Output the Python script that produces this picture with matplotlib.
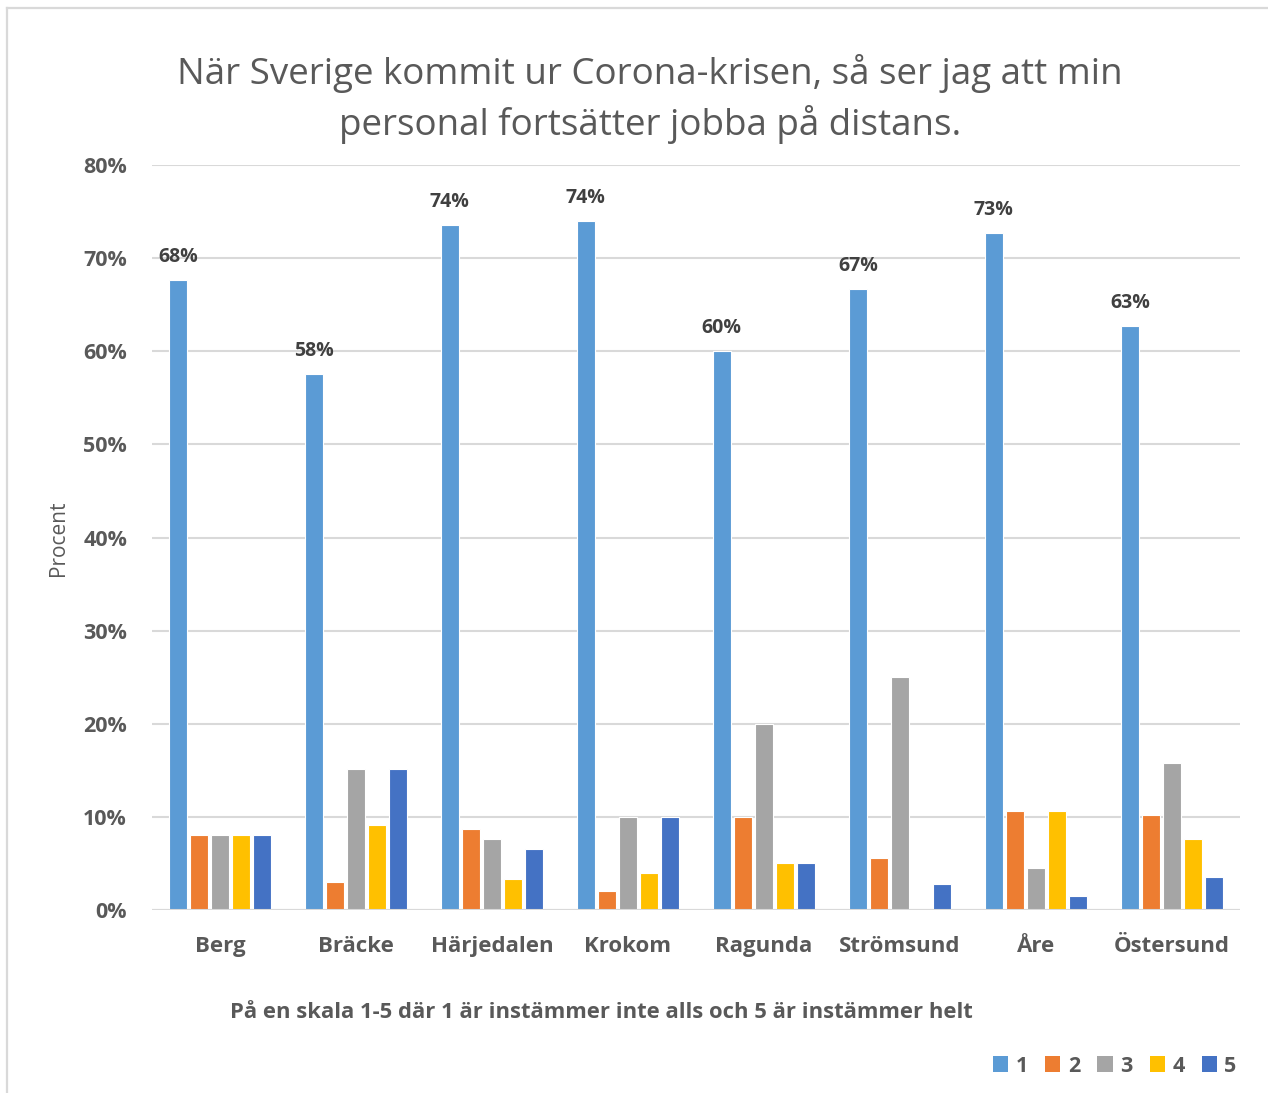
import matplotlib
matplotlib.use("Agg")
import matplotlib.pyplot as plt
from matplotlib.patches import Patch
from matplotlib.lines import Line2D
import numpy as np

categories = ["Berg", "Bräcke", "Härjedalen", "Krokom", "Ragunda", "Strömsund", "Åre", "Östersund"]
series_names = ["1", "2", "3", "4", "5"]
s1 = [67.6, 57.6, 73.6, 74.0, 60.0, 66.7, 72.7, 62.7]
s2 = [8.1, 3.0, 8.7, 2.0, 10.0, 5.6, 10.6, 10.2]
s3 = [8.1, 15.1, 7.6, 10.0, 20.0, 25.0, 4.5, 15.8]
s4 = [8.1, 9.1, 3.3, 4.0, 5.0, 0.0, 10.6, 7.6]
s5 = [8.1, 15.1, 6.5, 10.0, 5.0, 2.8, 1.5, 3.5]
series = [s1, s2, s3, s4, s5]
colors = ["#5B9BD5", "#ED7D31", "#A5A5A5", "#FFC000", "#4472C4"]

title = "När Sverige kommit ur Corona-krisen, så ser jag att min\npersonal fortsätter jobba på distans."
xlabel = "På en skala 1-5 där 1 är instämmer inte alls och 5 är instämmer helt"
ylabel = "Procent"
yticks = [0, 10, 20, 30, 40, 50, 60, 70, 80]

W, H = 1268, 1093
fig = plt.figure(figsize=(W / 100, H / 100), dpi=100)
fig.patch.set_facecolor("white")
# chart-area border (only left and top visible in the reference)
fig.add_artist(Line2D([7 / W, 7 / W], [0, 1 - 8 / H], transform=fig.transFigure,
                      color="#D9D9D9", linewidth=1.6))
fig.add_artist(Line2D([7 / W, 1], [1 - 8 / H, 1 - 8 / H], transform=fig.transFigure,
                      color="#D9D9D9", linewidth=1.6))

ax = fig.add_axes([152 / W, (H - 910) / H, 1088 / W, 745 / H])
x = np.arange(len(categories))
slot = 0.155
bw = 0.135
for i, (vals, c) in enumerate(zip(series, colors)):
    off = (i - 2) * slot
    ax.bar(x + off, vals, width=bw, color=c, edgecolor="white", linewidth=0.8,
           label=series_names[i], zorder=3)
    if i == 0:
        for xi, v in zip(x + off, vals):
            ax.text(xi, v + 1.4, f"{round(v):.0f}%", ha="center", va="bottom",
                    fontsize=14, fontweight="bold", color="#404040", family="Open Sans")

ax.set_xlim(-0.5, len(categories) - 0.5)
ax.set_ylim(0, 80)
ax.set_yticks(yticks)
ax.set_yticklabels([f"{t}%" for t in yticks])
ax.set_xticks(x)
ax.set_xticklabels(categories)
for lbl in ax.get_yticklabels():
    lbl.set_family("Open Sans")
    lbl.set_fontweight("bold")
    lbl.set_color("#595959")
    lbl.set_fontsize(15.5)
for lbl in ax.get_xticklabels():
    lbl.set_family("Open Sans")
    lbl.set_fontweight("bold")
    lbl.set_color("#595959")
    lbl.set_fontsize(16)
ax.tick_params(axis="both", length=0)
ax.tick_params(axis="y", pad=18)
ax.tick_params(axis="x", pad=19)
ax.grid(axis="y", color="#D9D9D9", linewidth=1.5, zorder=0)
for sp in ax.spines.values():
    sp.set_visible(False)
ax.axhline(0, color="#D9D9D9", linewidth=1.5, zorder=4)

fig.text(650 / W, 1 - 99 / H, title, ha="center", va="center", fontsize=26.5,
         family="Open Sans", color="#595959", linespacing=1.38)
fig.text(601 / W, 1 - 1013 / H, xlabel, ha="center", va="center", fontsize=15.8,
         family="Open Sans", fontweight="bold", color="#595959")
fig.text(58 / W, 1 - 538 / H, ylabel, ha="center", va="center", rotation=90,
         fontsize=15, family="Open Sans", color="#595959")

handles = [Patch(facecolor=c, edgecolor="none") for c in colors]
leg = fig.legend(handles, series_names, loc="center", bbox_to_anchor=(1115 / W, 1 - 1066 / H),
                 ncol=5, frameon=False, handlelength=0.7, handleheight=0.7,
                 handletextpad=0.35, columnspacing=0.8,
                 prop={"family": "Open Sans", "weight": "bold", "size": 15.5})
for t in leg.get_texts():
    t.set_color("#595959")

fig.savefig("out.png", dpi=100, facecolor="white")
